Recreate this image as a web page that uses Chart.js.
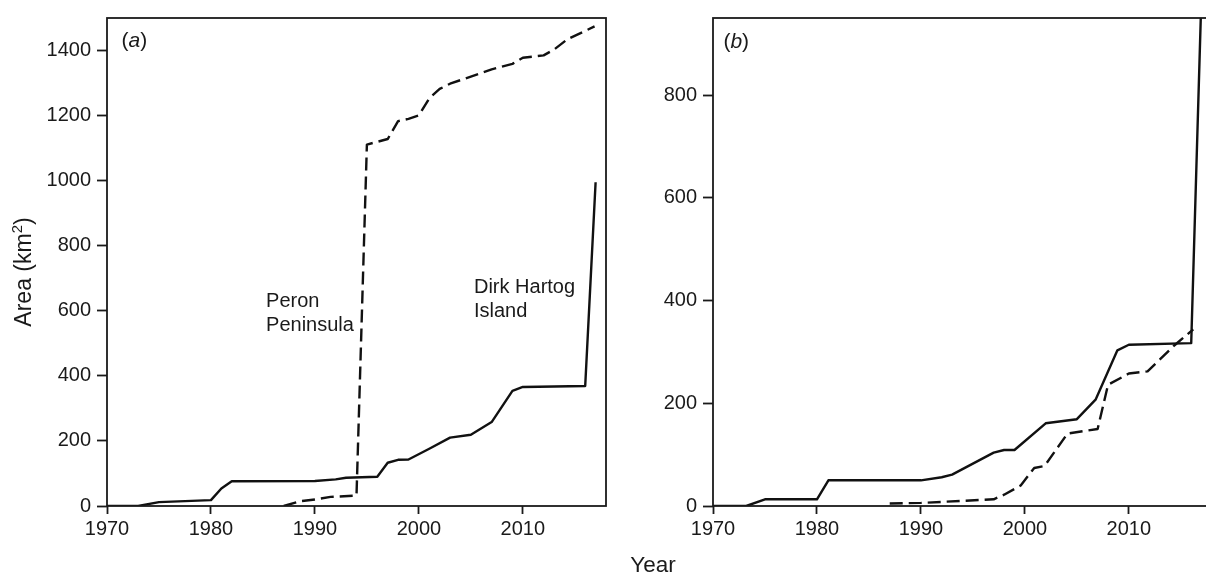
<!DOCTYPE html>
<html>
<head>
<meta charset="utf-8">
<script src="https://cdn.jsdelivr.net/npm/chart.js@4.4.1/dist/chart.umd.min.js"></script>
<style>
  html, body { margin: 0; padding: 0; background: #fff; overflow: hidden; }
  #wrap { position: relative; width: 1206px; height: 577px; overflow: hidden; }
  #chartA { position: absolute; left: 0; top: 0; }
  #chartB { position: absolute; left: 600px; top: 0; }
  #yearLabel {
    position: absolute; left: 653px; top: 554px; transform: translateX(-50%);
    font: 22.5px "Liberation Sans", Arial, sans-serif; line-height: 1; color: #1a1a1a;
  }
</style>
</head>
<body>
<div id="wrap">
  <canvas id="chartA" width="612" height="577"></canvas>
  <canvas id="chartB" width="620" height="577"></canvas>
  <div id="yearLabel">Year</div>
</div>
<script>
// panel (a)
const dirkYearsA = [1970, 1973, 1975, 1980, 1981, 1982, 1990, 1992, 1993, 1996, 1997, 1998, 1999, 2001, 2003, 2005, 2007, 2009, 2010, 2016, 2017];
const dirkAreaA  = [0, 0, 12, 18, 54, 76, 77, 82, 87, 90, 133, 142, 143, 176, 210, 219, 258, 354, 366, 369, 995];
const peronYearsA = [1987, 1988.6, 1990, 1991.5, 1994, 1995, 1997, 1998, 1999, 2000, 2001, 2002, 2003, 2005, 2007, 2009, 2010, 2012, 2013, 2014.3, 2016.9];
const peronAreaA  = [0, 15, 20, 28, 32, 1111, 1128, 1183, 1190, 1201, 1253, 1282, 1298, 1320, 1342, 1359, 1378, 1385, 1403, 1435, 1474];

// panel (b)
const solidYearsB = [1970, 1973.2, 1975, 1980, 1981.1, 1990, 1992, 1993, 1997, 1998, 1999, 2002, 2005, 2006.8, 2008.9, 2010, 2016, 2017];
const solidAreaB  = [0, 0, 13, 13, 50, 50, 56, 61, 104, 109, 109, 161, 169, 207, 303, 314, 317, 1005];
const dashYearsB = [1987, 1990, 1997, 1998, 1999.6, 2000.9, 2001.9, 2004.1, 2007, 2008, 2010, 2011.8, 2014.4, 2016.2];
const dashAreaB  = [5, 6, 13, 22, 40, 74, 78, 141, 150, 236, 258, 262, 313, 344];

const xTicks = [1970, 1980, 1990, 2000, 2010];
const yTicksA = [0, 200, 400, 600, 800, 1000, 1200, 1400];
const yTicksB = [0, 200, 400, 600, 800];

const FONT = '"Liberation Sans", Arial, sans-serif';
const INK = '#1a1a1a';

function toPoints(xs, ys) {
    return xs.map((x, i) => ({ x: x, y: ys[i] }));
}

const framePlugin = {
    id: 'frame',
    afterDraw(chart, args, opts) {
        const { ctx, chartArea: a, scales } = chart;
        ctx.save();
        ctx.strokeStyle = INK;
        ctx.lineWidth = 1.8;
        ctx.strokeRect(a.left, a.top, a.right - a.left, a.bottom - a.top);

        ctx.fillStyle = INK;
        ctx.textBaseline = 'alphabetic';
        (opts.notes || []).forEach(n => {
            let x = scales.x.getPixelForValue(n.x);
            const y = scales.y.getPixelForValue(n.y);
            n.parts.forEach(p => {
                ctx.font = (p.italic ? 'italic ' : '') + n.size + 'px ' + FONT;
                ctx.fillText(p.t, x, y);
                x += ctx.measureText(p.t).width;
            });
        });

        if (opts.yTitle) {
            const t = opts.yTitle;
            ctx.translate(t.x, t.y);
            ctx.rotate(-Math.PI / 2);
            ctx.textBaseline = 'middle';
            const big = t.size + 'px ' + FONT;
            const small = Math.round(t.size * 0.65) + 'px ' + FONT;
            ctx.font = big;
            const w1 = ctx.measureText(t.main).width;
            const w3 = ctx.measureText(t.tail).width;
            ctx.font = small;
            const w2 = ctx.measureText(t.sup).width;
            let x = -(w1 + w2 + w3) / 2;
            ctx.font = big;
            ctx.fillText(t.main, x, 0);
            x += w1;
            ctx.font = small;
            ctx.fillText(t.sup, x, -t.size * 0.32);
            x += w2;
            ctx.font = big;
            ctx.fillText(t.tail, x, 0);
        }
        ctx.restore();
    }
};

function lineSet(points, dashed) {
    return {
        data: points,
        borderColor: '#111',
        borderWidth: 2.4,
        borderDash: dashed ? [13, 6] : [],
        borderJoinStyle: 'round',
        pointRadius: 0,
        tension: 0,
        fill: false
    };
}

function makeOptions(yMax, yTicks, yWidth, padRight, notes, yTitle) {
    return {
        responsive: false,
        animation: false,
        layout: { padding: { top: 11, right: padRight, left: 0, bottom: 0 } },
        plugins: {
            legend: { display: false },
            tooltip: { enabled: false },
            frame: { notes: notes, yTitle: yTitle }
        },
        scales: {
            x: {
                type: 'linear',
                min: 1970,
                max: 2018,
                afterBuildTicks: s => { s.ticks = xTicks.map(v => ({ value: v })); },
                afterFit: s => { s.height = 71; },
                border: { display: false },
                grid: { display: true, drawOnChartArea: false, drawTicks: true, tickLength: 8, tickColor: INK, tickWidth: 1.8 },
                ticks: { color: INK, font: { family: FONT, size: 20 }, padding: 3, maxRotation: 0, callback: v => String(v) }
            },
            y: {
                min: 0,
                max: yMax,
                afterBuildTicks: s => { s.ticks = yTicks.map(v => ({ value: v })); },
                afterFit: s => { s.width = yWidth; },
                border: { display: false },
                grid: { display: true, drawOnChartArea: false, drawTicks: true, tickLength: 10, tickColor: INK, tickWidth: 1.8 },
                ticks: { color: INK, font: { family: FONT, size: 20 }, padding: 6, callback: v => String(v) }
            }
        }
    };
}

new Chart(document.getElementById('chartA'), {
    type: 'line',
    data: {
        datasets: [
            lineSet(toPoints(dirkYearsA, dirkAreaA), false),
            lineSet(toPoints(peronYearsA, peronAreaA), true)
        ]
    },
    options: makeOptions(1500, yTicksA, 107, 6, [
        { x: 1971.4, y: 1412, size: 21, parts: [{ t: '(' }, { t: 'a', italic: true }, { t: ')' }] },
        { x: 1985.3, y: 611, size: 20, parts: [{ t: 'Peron' }] },
        { x: 1985.3, y: 538, size: 20, parts: [{ t: 'Peninsula' }] },
        { x: 2005.3, y: 654, size: 20, parts: [{ t: 'Dirk Hartog' }] },
        { x: 2005.3, y: 581, size: 20, parts: [{ t: 'Island' }] }
    ], { x: 25, y: 272, size: 23, main: 'Area (km', sup: '2', tail: ')' }),
    plugins: [framePlugin]
});

new Chart(document.getElementById('chartB'), {
    type: 'line',
    data: {
        datasets: [
            lineSet(toPoints(solidYearsB, solidAreaB), false),
            lineSet(toPoints(dashYearsB, dashAreaB), true)
        ]
    },
    options: makeOptions(950, yTicksB, 113, 8, [
        { x: 1971.0, y: 892, size: 21, parts: [{ t: '(' }, { t: 'b', italic: true }, { t: ')' }] }
    ], null),
    plugins: [framePlugin]
});
</script>
</body>
</html>
